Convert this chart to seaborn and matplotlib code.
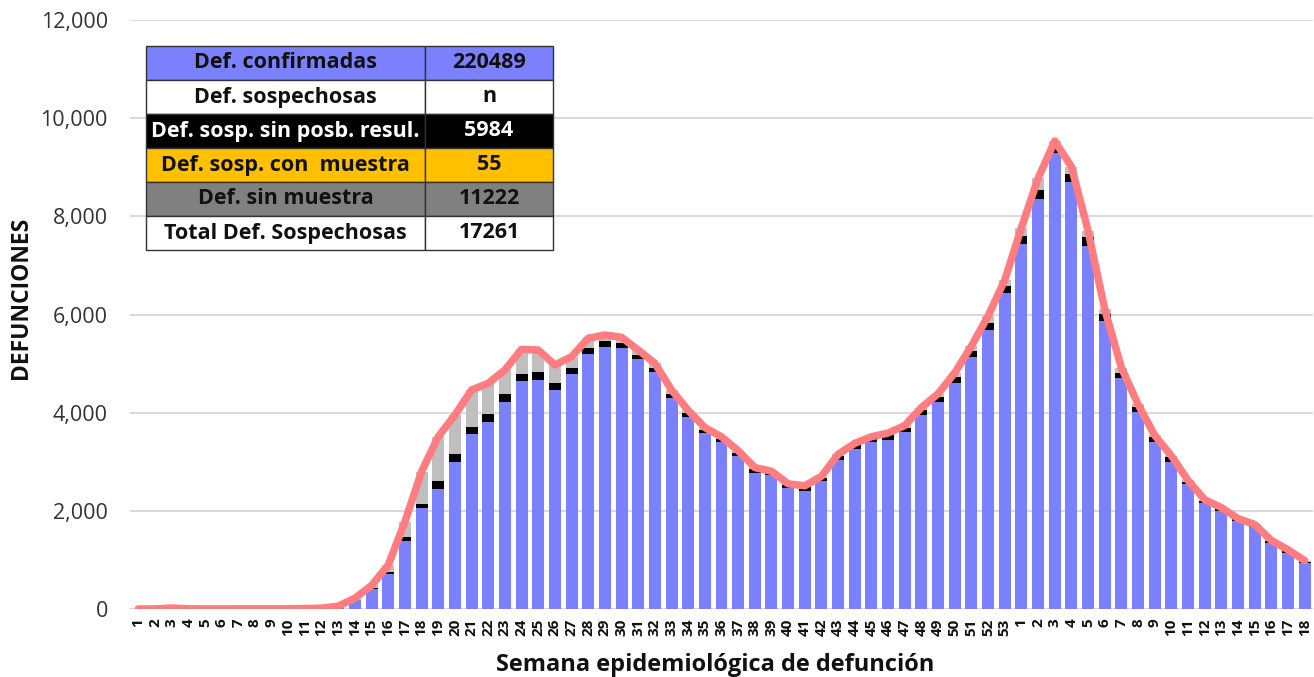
import numpy as np
import pandas as pd
import matplotlib
matplotlib.use("Agg")
import matplotlib.pyplot as plt
import seaborn as sns
from matplotlib.ticker import FuncFormatter

# ---------------- data ----------------
weeks_2020 = list(range(1, 54))
weeks_2021 = list(range(1, 19))
week_labels = [str(w) for w in weeks_2020 + weeks_2021]

confirmadas = [
    2, 1, 15, 3, 2, 2, 3, 4, 3, 4, 6, 12, 45,
    183, 401, 706, 1385, 2055, 2445, 3001, 3559, 3817, 4211, 4646, 4666,
    4462, 4788, 5196, 5345, 5324, 5087, 4835, 4305, 3905, 3579, 3396, 3117,
    2777, 2730, 2459, 2410, 2608, 3036, 3260, 3409, 3443, 3600, 3953, 4224,
    4598, 5128, 5685, 6445,
    7430, 8347, 9285, 8707, 7396, 5875, 4700, 4020, 3409, 3001, 2540, 2166,
    2003, 1786, 1664, 1338, 1147, 931]

sin_posb_resul = [
    0, 0, 0, 0, 0, 0, 0, 0, 0, 0, 0, 0, 3,
    8, 19, 54, 75, 90, 163, 164, 149, 163, 163, 142, 156,
    136, 129, 115, 115, 102, 82, 69, 75, 82, 68, 67, 68,
    69, 47, 61, 70, 67, 81, 75, 61, 102, 94, 102, 102,
    135, 135, 149, 136,
    170, 190, 169, 156, 176, 129, 115, 89, 89, 89, 54, 40,
    48, 41, 41, 41, 41, 33]

con_muestra = [0] * 66 + [5, 8, 10, 14, 18]

sin_muestra = [
    0, 0, 5, 0, 0, 0, 0, 0, 0, 0, 2, 5, 10,
    30, 60, 136, 319, 655, 903, 788, 754, 618, 496, 503, 455,
    373, 224, 204, 123, 109, 108, 102, 82, 60, 50, 45, 40,
    35, 30, 30, 30, 30, 35, 40, 40, 40, 45, 50, 60,
    80, 95, 136, 122,
    169, 238, 80, 149, 136, 102, 102, 60, 40, 30, 25, 20,
    15, 10, 10, 8, 5, 5]

table_labels = ["Def. confirmadas", "Def. sospechosas", "Def. sosp. sin posb. resul.",
                "Def. sosp. con  muestra", "Def. sin muestra", "Total Def. Sospechosas"]
table_values = ["220489", "n", "5984", "55", "11222", "17261"]

# ---------------- styling ----------------
C_BLUE = "#7B80FC"
C_BLACK = "#000000"
C_ORANGE = "#FFC000"
C_GRAY = "#BFBFBF"
C_LINE = "#FF7C80"

sns.set_theme(style="white")
plt.rcParams['font.family'] = ['Open Sans', 'DejaVu Sans']

W, H = 1314, 677
fig = plt.figure(figsize=(W / 100, H / 100), dpi=100)
ax = fig.add_axes([130 / W, 68 / H, 1183 / W, 589 / H])

n = len(week_labels)
df = pd.DataFrame({
    "pos": np.arange(n),
    "conf": confirmadas,
    "sinposb": sin_posb_resul,
    "conm": con_muestra,
    "sinm": sin_muestra,
})
df["c1"] = df["conf"]
df["c2"] = df["c1"] + df["sinposb"]
df["c3"] = df["c2"] + df["conm"]
df["c4"] = df["c3"] + df["sinm"]

for col, color in [("c4", C_GRAY), ("c3", C_ORANGE), ("c2", C_BLACK), ("c1", C_BLUE)]:
    sns.barplot(data=df, x="pos", y=col, color=color, saturation=1, width=0.72,
                errorbar=None, linewidth=0, ax=ax, zorder=2)

sns.lineplot(x=df["pos"], y=df["c4"], color=C_LINE, linewidth=5.4, ax=ax,
             solid_joinstyle="round", solid_capstyle="round", zorder=3)

ax.set_xlim(-0.5, n - 0.5)
ax.set_ylim(0, 12000)
ax.set_yticks(range(0, 12001, 2000))
ax.yaxis.set_major_formatter(FuncFormatter(lambda v, p: f"{int(v):,}"))
ax.set_xticks(range(n))
ax.set_xticklabels(week_labels, rotation=90, fontweight="bold", fontsize=11, color="#111111")
for lab in ax.get_yticklabels():
    lab.set_fontsize(15.5)
    lab.set_color("#333333")
ax.tick_params(axis="y", length=0, pad=16)
ax.tick_params(axis="x", length=0, pad=7)
ax.set_xlabel("")
ax.set_ylabel("")
for s in ax.spines.values():
    s.set_visible(False)
ax.yaxis.grid(True, color="#D9D9D9", linewidth=1.4)
ax.set_axisbelow(True)
ax.axhline(0, color="#D9D9D9", linewidth=1.6, zorder=1)

fig.text(21 / W, 1 - 298 / H, "DEFUNCIONES", rotation=90, ha="center", va="center",
         fontweight="bold", fontsize=16.5, color="#111111")
fig.text(715 / W, 1 - 665 / H, "Semana epidemiológica de defunción", ha="center",
         va="center", fontweight="bold", fontsize=17, color="#111111")

# ---------------- summary table ----------------
row_bg = [C_BLUE, "#FFFFFF", "#000000", C_ORANGE, "#808080", "#FFFFFF"]
row_fg = ["#111111", "#111111", "#FFFFFF", "#111111", "#111111", "#111111"]
x0 = (146 - 130) / 1183
y0 = (609 - 250) / 589
tw = 407 / 1183
th = 204 / 589
tbl = ax.table(cellText=[[l, v] for l, v in zip(table_labels, table_values)],
               cellColours=[[b, b] for b in row_bg],
               colWidths=[0.6855 * tw, 0.3145 * tw],
               cellLoc="center", bbox=[x0, y0, tw, th])
tbl.auto_set_font_size(False)
tbl.set_fontsize(15.5)
tbl.set_zorder(10)
for (r, c), cell in tbl.get_celld().items():
    cell.set_edgecolor("#333333")
    cell.set_linewidth(1.0)
    cell.PAD = 0.01
    t = cell.get_text()
    t.set_fontweight("bold")
    t.set_color(row_fg[r])

fig.savefig("out.png", dpi=100)
